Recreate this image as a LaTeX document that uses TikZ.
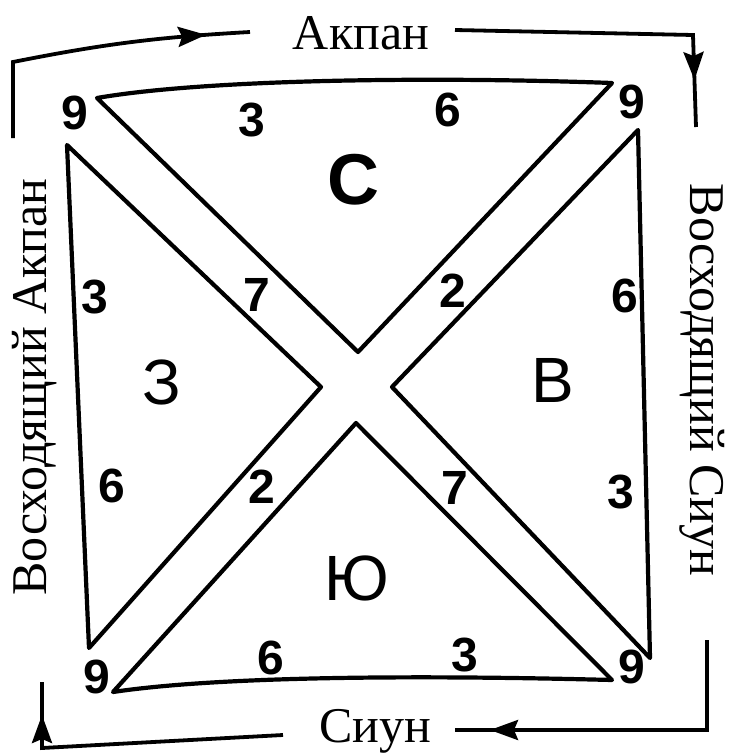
\documentclass[tikz,border=0pt]{standalone}
\usepackage{fontspec}
\setmainfont{Liberation Serif}
\newfontfamily\digitfont{Liberation Sans}
\usetikzlibrary{arrows.meta, decorations.markings}
\tikzset{
    tri/.style = {line width=2.1pt, line join=round, line cap=round},
    loopline/.style = {line width=1.9pt, line join=miter},
    midarrow/.style = {postaction={decorate}, decoration={markings, mark=at position #1 with {\arrow{Stealth[length=14pt, width=10pt, inset=2pt]}}}},
    side/.style = {font=\fontsize{25}{28}\selectfont, inner sep=0pt},
    num/.style = {font=\digitfont\bfseries\fontsize{24}{26}\selectfont, inner sep=0pt},
    region/.style = {font=\digitfont\fontsize{32}{34}\selectfont, inner sep=0pt}
}

\begin{document}
\begin{tikzpicture}[x=0.5pt, y=-0.5pt]
        \useasboundingbox (0,0) rectangle (729,755);

        % Corners of the four triangles
        \coordinate (tA) at (97,98);   \coordinate (tB) at (612,83);  \coordinate (tC) at (358,352);
        \coordinate (lA) at (67,145);  \coordinate (lB) at (321,387); \coordinate (lC) at (89,648);
        \coordinate (rA) at (638,130); \coordinate (rB) at (650,658); \coordinate (rC) at (392,387);
        \coordinate (bA) at (113,692); \coordinate (bB) at (612,680); \coordinate (bC) at (356,423);

        % Triangles
        \draw [tri] (tA) .. controls (200,80) and (420,76) .. (tB) -- (tC) -- cycle;
        \draw [tri] (lA) -- (lB) -- (lC) -- cycle;
        \draw [tri] (rA) -- (rB) -- (rC) -- cycle;
        \draw [tri] (bA) .. controls (220,676) and (420,675) .. (bB) -- (bC) -- cycle;

        % Region letters
        \node (north) [region, font=\digitfont\bfseries\fontsize{36}{38}\selectfont] at (353,180) {С};
        \node (west) [region] at (162,382) {З};
        \node (east) [region] at (553,380) {В};
        \node (south) [region] at (357,578) {Ю};

        % Numbers
        \node (n9tl) [num] at (75,113) {9};
        \node (n3t) [num] at (252,120) {3};
        \node (n6t) [num] at (448,110) {6};
        \node (n9tr) [num] at (632,102) {9};
        \node (n3l) [num] at (95,297) {3};
        \node (n7l) [num] at (257,295) {7};
        \node (n2l) [num] at (262,487) {2};
        \node (n6l) [num] at (112,486) {6};
        \node (n2r) [num] at (453,291) {2};
        \node (n6r) [num] at (625,296) {6};
        \node (n3r) [num] at (621,492) {3};
        \node (n7r) [num] at (455,488) {7};
        \node (n9bl) [num] at (97,677) {9};
        \node (n6b) [num] at (271,658) {6};
        \node (n3b) [num] at (465,655) {3};
        \node (n9br) [num] at (632,667) {9};

        % Frame labels
        \node (akpan) [side] at (361,33) {Акпан};
        \node (siun) [side] at (375,731) {Сиун};
        \node (vakpan) [side, rotate=90] at (35,387) {Восходящий Акпан};
        \node (vsiun) [side, rotate=-90] at (702,380) {Восходящий Сиун};

        % Frame line ends
        \coordinate (fl1) at (13,138);  \coordinate (fl2) at (13,62);   \coordinate (akpanL) at (250,32);
        \coordinate (akpanR) at (455,30); \coordinate (fr1) at (693,35); \coordinate (fr2) at (696,127);
        \coordinate (fr3) at (707,640); \coordinate (fr4) at (707,730); \coordinate (siunR) at (455,730);
        \coordinate (siunL) at (283,735); \coordinate (fl3) at (42,748); \coordinate (fl4) at (42,682);

        % Frame with arrows
        \draw [loopline, midarrow=-22pt] (fl1) -- (fl2) to[bend left=4] (akpanL);
        \draw [loopline, midarrow=-23.5pt] (akpanR) -- (fr1) -- (fr2);
        \draw [loopline, midarrow=-17.5pt] (fr3) -- (fr4) -- (siunR);
        \draw [loopline, midarrow=-16.5pt] (siunL) -- (fl3) -- (fl4);

    \end{tikzpicture}
\end{document}
